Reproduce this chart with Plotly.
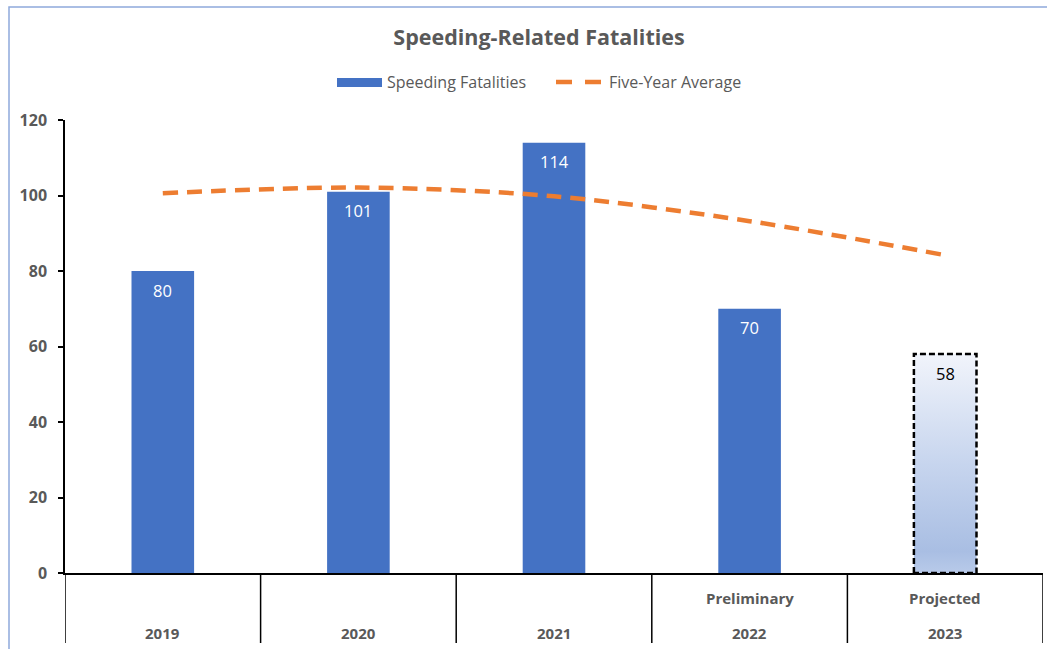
import plotly.graph_objects as go

years = ["2019", "2020", "2021", "2022", "2023"]
status = ["", "", "", "Preliminary", "Projected"]
fatalities = [80, 101, 114, 70, 58]
five_year_avg = [100.6, 102.1, 99.8, 93.2, 84.2]
projected_flags = [False, False, False, False, True]

W, H = 1047, 649
L, R, T, B = 65, 1043, 120, 573


def px(x):
    return (x - L) / (R - L)


def py(y):
    return (B - y) / (B - T)


GRAY = "#595959"
BLUE = "#4472C4"
ORANGE = "#ED7D31"
FONT = "Open Sans"
bar_w = 0.32
idx = list(range(len(years)))

fig = go.Figure()

act_x = [i for i in idx if not projected_flags[i]]
act_y = [fatalities[i] for i in act_x]
fig.add_trace(go.Bar(x=act_x, y=act_y, width=bar_w, marker=dict(color=BLUE, line=dict(width=0)),
                     showlegend=False, hoverinfo="skip"))

for i in idx:
    if projected_flags[i]:
        v = fatalities[i]
        fig.add_trace(go.Scatter(
            x=[i - bar_w / 2, i - bar_w / 2, i + bar_w / 2, i + bar_w / 2, i - bar_w / 2],
            y=[0, v, v, 0, 0], mode="lines", fill="toself",
            fillgradient=dict(type="vertical", start=0, stop=v,
                              colorscale=[[0, "#b8cae9"], [0.1, "#a9bee3"], [0.5, "#c7d5ee"], [1, "#f1f4fb"]]),
            line=dict(color="black", width=2.5, dash="6px,3px"),
            showlegend=False, hoverinfo="skip"))

fig.add_trace(go.Scatter(x=idx, y=five_year_avg, mode="lines",
                         line=dict(color=ORANGE, width=4.5, dash="15px,9px", shape="spline", smoothing=0.9),
                         showlegend=False, hoverinfo="skip"))

annotations = []
for i in idx:
    annotations.append(dict(x=i, y=fatalities[i], xref="x", yref="y", text=str(fatalities[i]),
                            showarrow=False, yshift=-19, yanchor="middle",
                            font=dict(family=FONT, size=16.5, color="black" if projected_flags[i] else "white")))
    annotations.append(dict(x=i, y=py(633), xref="x", yref="paper", text=years[i], showarrow=False,
                            yanchor="middle",
                            font=dict(family=FONT, size=15, color=GRAY, weight="bold")))
    if status[i]:
        annotations.append(dict(x=i, y=py(598), xref="x", yref="paper", text=status[i], showarrow=False,
                                yanchor="middle",
                                font=dict(family=FONT, size=15, color=GRAY, weight="bold")))

# legend (manual)
annotations.append(dict(x=px(385), y=py(82), xref="paper", yref="paper", xanchor="left", yanchor="middle",
                        text="Speeding Fatalities", showarrow=False, font=dict(family=FONT, size=16, color=GRAY)))
annotations.append(dict(x=px(607), y=py(82), xref="paper", yref="paper", xanchor="left", yanchor="middle",
                        text="Five-Year Average", showarrow=False, font=dict(family=FONT, size=16, color=GRAY)))

shapes = []
for k in range(len(years) + 1):
    shapes.append(dict(type="line", xref="x", yref="paper", x0=k - 0.5, x1=k - 0.5, y0=0, y1=py(643),
                       line=dict(color="black", width=1.5)))
shapes.append(dict(type="rect", xref="paper", yref="paper", x0=px(337), x1=px(382), y0=py(87), y1=py(78),
                   fillcolor=BLUE, line=dict(width=0)))
shapes.append(dict(type="line", xref="paper", yref="paper", x0=px(556), x1=px(601), y0=py(82), y1=py(82),
                   line=dict(color=ORANGE, width=4.5, dash="16px,13px")))
shapes.append(dict(type="rect", xref="paper", yref="paper", x0=px(9), x1=px(1065), y0=py(670), y1=py(7),
                   line=dict(color="#8EA9DB", width=1.5), fillcolor="rgba(0,0,0,0)"))

fig.update_layout(
    width=W, height=H,
    margin=dict(l=L, r=W - R, t=T, b=H - B),
    paper_bgcolor="white", plot_bgcolor="white",
    title=dict(text="Speeding-Related Fatalities", x=539 / W, xanchor="center", xref="container",
               y=1 - 37 / H, yanchor="middle", yref="container",
               font=dict(family=FONT, size=21.5, color=GRAY, weight="bold")),
    xaxis=dict(range=[-0.5, len(years) - 0.5], showticklabels=False, showgrid=False, zeroline=False,
               showline=True, linecolor="black", linewidth=1.5, ticks=""),
    yaxis=dict(range=[0, 120], dtick=20, showgrid=False, zeroline=False, showline=True, linecolor="black",
               linewidth=1.5, ticks="outside", ticklen=5, tickcolor="black", tickwidth=1.5,
               tickfont=dict(family=FONT, size=16, color=GRAY, weight="bold"), ticklabelstandoff=8),
    annotations=annotations, shapes=shapes, showlegend=False,
)

fig.write_html("out.html")
